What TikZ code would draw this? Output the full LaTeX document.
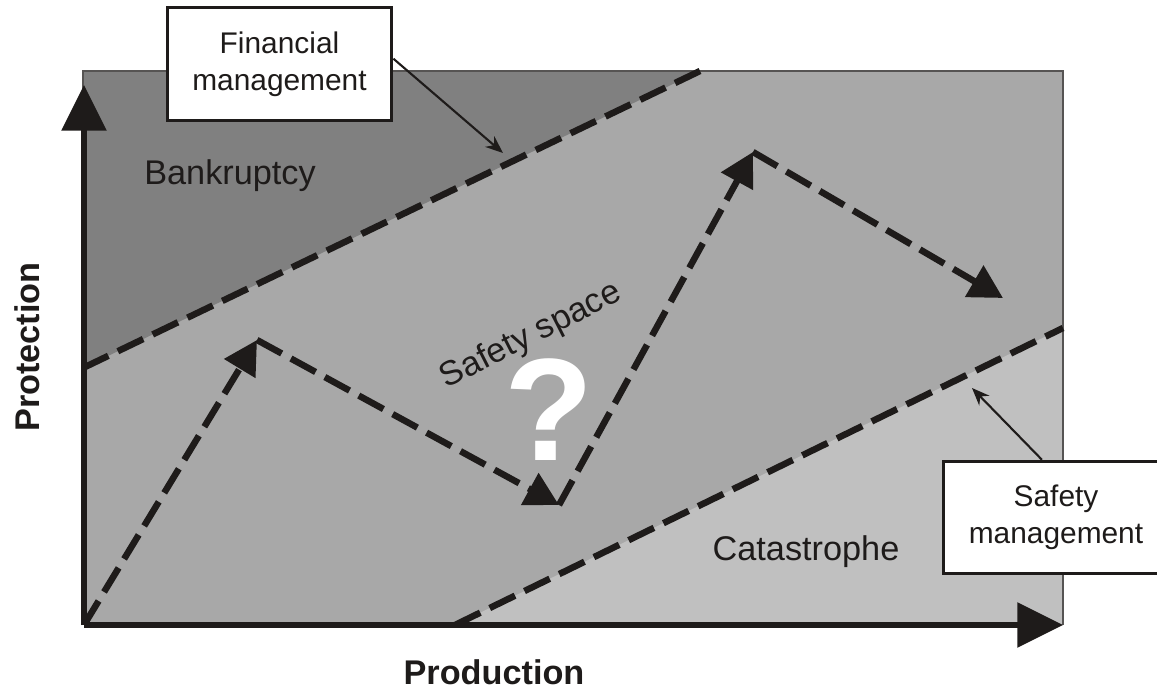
\documentclass[tikz,border=0pt]{standalone}
\usepackage{fontspec}
\setmainfont{Liberation Sans}
\usetikzlibrary{arrows.meta, positioning}
\definecolor{ink}{RGB}{30,27,26}
\definecolor{bankgray}{RGB}{128,128,128}
\definecolor{safegray}{RGB}{168,168,168}
\definecolor{catgray}{RGB}{192,192,192}

\begin{document}
\begin{tikzpicture}[x=0.02cm, y=-0.02cm,
		axis/.style={line width=3.4pt, ink, -{Triangle[length=26pt,width=25pt]}},
		limit/.style={line width=3.7pt, ink, dash pattern=on 16pt off 6pt},
		move/.style={line width=3.7pt, ink, dash pattern=on 16pt off 6pt, -{Triangle[length=19pt,width=20pt]}},
		pointer/.style={line width=1.2pt, ink, -{Stealth[length=10pt,width=8pt]}},
		mgmt/.style={draw=ink, line width=1.7pt, fill=white, text=ink, align=center, minimum width=128pt, minimum height=64pt, font=\fontsize{17}{21}\selectfont},
		region/.style={text=ink, font=\fontsize{19.5}{23}\selectfont},
		axislabel/.style={text=ink, font=\bfseries\fontsize{19.5}{23}\selectfont}]
			\useasboundingbox (0,0) rectangle (1157,692);
			\coordinate (o) at (84,625);
			\coordinate (ytop) at (84,85);
			\coordinate (xend) at (1063,625);
			\coordinate (fin1) at (83,368);
			\coordinate (fin2) at (700,71);
			\coordinate (safe1) at (455,625);
			\coordinate (safe2) at (1063,328);
			\coordinate (p1) at (257,340);
			\coordinate (p2) at (559,505);
			\coordinate (p3) at (753,152);
			\coordinate (p4) at (1003,298);
			\coordinate (fintip) at (503,153);
			\coordinate (safetip) at (972,388);
			\fill[safegray] (83,71) rectangle (1063,625);
			\fill[bankgray] (83,71) -- (fin2) -- (fin1) -- cycle;
			\fill[catgray] (safe1) -- (safe2) -- (1063,625) -- cycle;
			\draw[ink!75, line width=0.9pt] (83,625) -- (83,71) -- (1063,71) -- (1063,625);
			\draw[limit] (fin1) -- (fin2);
			\draw[limit] (safe1) -- (safe2);
			\draw[axis] (o) -- (ytop);
			\draw[axis] (o) -- (xend);
			\foreach \a/\b in {o/p1, p1/p2, p2/p3, p3/p4}
				\draw[move] (\a) -- (\b);
			\node[region] (bank) at (230,176) {Bankruptcy};
			\node[region] (cat) at (806,552) {Catastrophe};
			\node[region, rotate=27, inner sep=0pt] (space) at (531,336) {Safety space};
			\node[text=white, inner sep=0pt, font=\bfseries\fontsize{83}{90}\selectfont] (quest) at (549,410) {?};
			\node[axislabel] (prod) at (494,672) {Production};
			\node[axislabel, rotate=90] (prot) at (27,347) {Protection};
			\node[mgmt] (fin) at (279.5,64) {Financial\\management};
			\node[mgmt] (safe) at (1056,517.5) {Safety\\management};
			\draw[pointer] ([yshift=3pt]fin.east) -- (fintip);
			\draw[pointer] ([xshift=-8pt]safe.north) -- (safetip);
		\end{tikzpicture}
\end{document}
